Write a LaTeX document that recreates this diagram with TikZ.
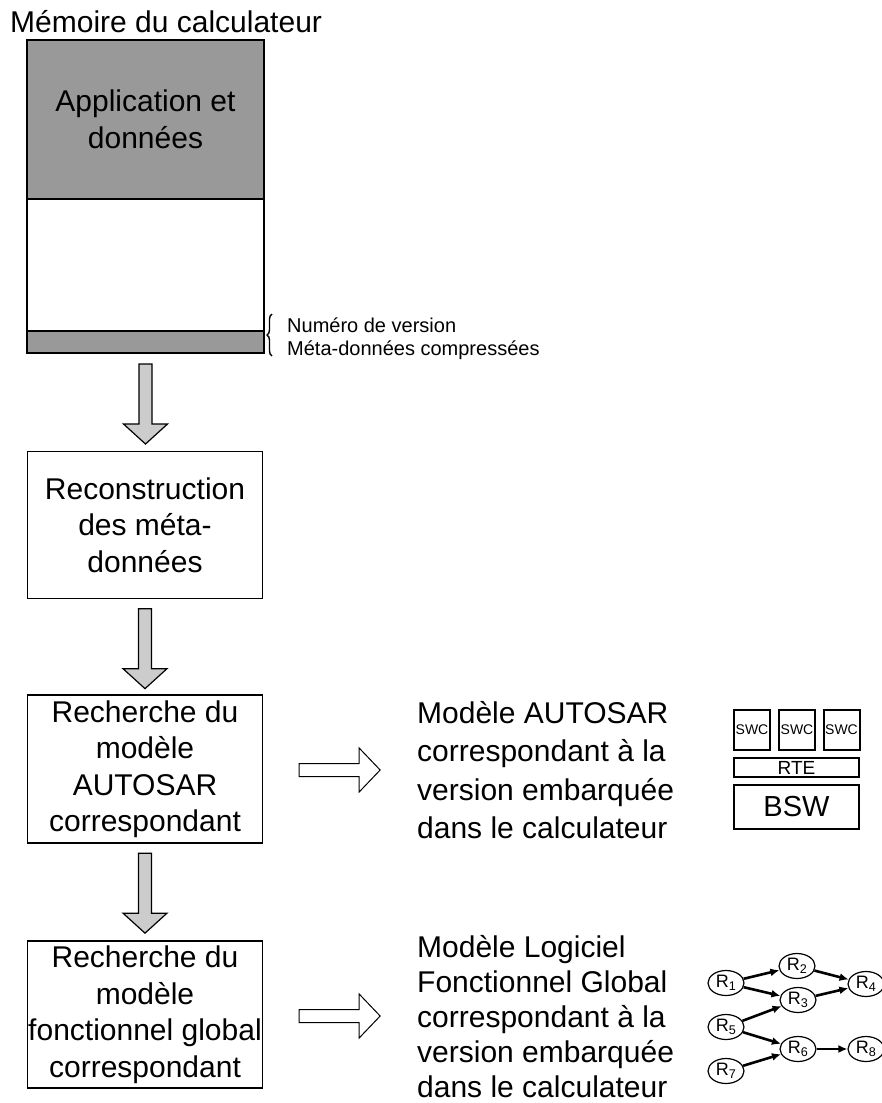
\documentclass[tikz,border=0pt]{standalone}
\usepackage{fontspec}
\setmainfont{Liberation Sans}
\usetikzlibrary{shapes.geometric,arrows.meta,decorations.pathreplacing}
\definecolor{memgray}{RGB}{153,153,153}
\definecolor{arrgray}{RGB}{204,204,204}
\begin{document}
\begin{tikzpicture}[x=1pt,y=-1pt,
  big/.style={font=\fontsize{30}{36.5}\selectfont},
  membox/.style={draw,line width=2pt,minimum width=237pt,inner sep=0pt,align=center,big},
  stepbox/.style={draw,line width=1.3pt,minimum width=235pt,minimum height=147pt,inner sep=0pt,align=center,big},
  asr/.style={draw,line width=2pt,inner sep=0pt,align=center},
  rnode/.style={draw,ellipse,line width=1.2pt,minimum width=36pt,minimum height=25pt,inner sep=0pt,font=\fontsize{18}{18}\selectfont},
  redge/.style={line width=2.6pt,-{Latex[length=9pt,width=8pt]}},
  downarrow/.pic={\draw[line width=1.2pt,fill=arrgray,line join=miter] (-6.5,0)--(6.5,0)--(6.5,60)--(22,60)--(0,80)--(-22,60)--(-6.5,60)--cycle;},
  rightarrow/.pic={\draw[line width=1pt,fill=white,line join=miter] (0,-6.5)--(60,-6.5)--(60,-22)--(81,0)--(60,22)--(60,6.5)--(0,6.5)--cycle;}
]
\useasboundingbox (0,0) rectangle (881,1103);

% title
\node[anchor=base west,inner sep=0pt,font=\fontsize{30}{36}\selectfont] (title) at (10,32) {Mémoire du calculateur};

% memory
\node[membox,fill=memgray,minimum height=159pt] (app) at (145.5,119.5) {Application et\\données};
\node[membox,minimum height=132pt] (mid) at (145.5,265) {};
\node[membox,fill=memgray,minimum height=22pt] (band) at (145.5,342) {};

\draw[line width=1.4pt,decorate,decoration={brace,amplitude=5pt}] (272,356) -- (272,314);
\node[anchor=west,inner sep=0pt,align=left,font=\fontsize{20}{23}\selectfont] (meta) at (287,338.5) {Numéro de version\\Méta-données compressées};

% steps
\node[stepbox] (rec) at (145,525) {Reconstruction\\des méta-\\données};
\node[stepbox,minimum height=148pt] (asar) at (145,769) {Recherche du\\modèle\\AUTOSAR\\correspondant};
\node[stepbox] (func) at (145,1014.5) {Recherche du\\modèle\\fonctionnel global\\correspondant};

\path (band.south) ++(0,10) pic{downarrow};
\path (rec.south) ++(0,9.5) pic{downarrow};
\path (asar.south) ++(0,9.5) pic{downarrow};

\path (asar.east) ++(36,1) pic{rightarrow};
\path (func.east) ++(36,1.5) pic{rightarrow};

% right texts
\node[anchor=west,inner sep=0pt,align=left,font=\fontsize{30}{38.5}\selectfont] (t1) at (417,770) {Modèle AUTOSAR\\correspondant à la\\version embarquée\\dans le calculateur};
\node[anchor=west,inner sep=0pt,align=left,font=\fontsize{30}{35}\selectfont] (t2) at (417,1017) {Modèle Logiciel\\Fonctionnel Global\\correspondant à la\\version embarquée\\dans le calculateur};

% AUTOSAR architecture
\node[asr,minimum width=36pt,minimum height=40pt,font=\fontsize{14}{14}\selectfont] (swc1) at (752,730) {SWC};
\node[asr,minimum width=36pt,minimum height=40pt,font=\fontsize{14}{14}\selectfont] (swc2) at (797,730) {SWC};
\node[asr,minimum width=36pt,minimum height=40pt,font=\fontsize{14}{14}\selectfont] (swc3) at (841.5,730) {SWC};
\node[asr,minimum width=125pt,minimum height=19pt,font=\fontsize{19}{19}\selectfont] (rte) at (796.5,767.5) {RTE};
\node[asr,minimum width=125pt,minimum height=44pt,font=\fontsize{29}{29}\selectfont] (bsw) at (796.5,807) {BSW};

% functional graph
\node[rnode] (r1) at (726,983) {R\textsubscript{1}};
\node[rnode] (r2) at (797,966) {R\textsubscript{2}};
\node[rnode] (r3) at (798,1000) {R\textsubscript{3}};
\node[rnode] (r4) at (866,984) {R\textsubscript{4}};
\node[rnode] (r5) at (726,1027) {R\textsubscript{5}};
\node[rnode] (r6) at (798,1049) {R\textsubscript{6}};
\node[rnode] (r7) at (726,1071) {R\textsubscript{7}};
\node[rnode] (r8) at (866,1049) {R\textsubscript{8}};
\draw[redge] (r1) -- (r2);
\draw[redge] (r1) -- (r3);
\draw[redge] (r2) -- (r4);
\draw[redge] (r3) -- (r4);
\draw[redge] (r5) -- (r3);
\draw[redge] (r5) -- (r6);
\draw[redge] (r7) -- (r6);
\draw[redge] (r6) -- (r8);
\end{tikzpicture}
\end{document}
